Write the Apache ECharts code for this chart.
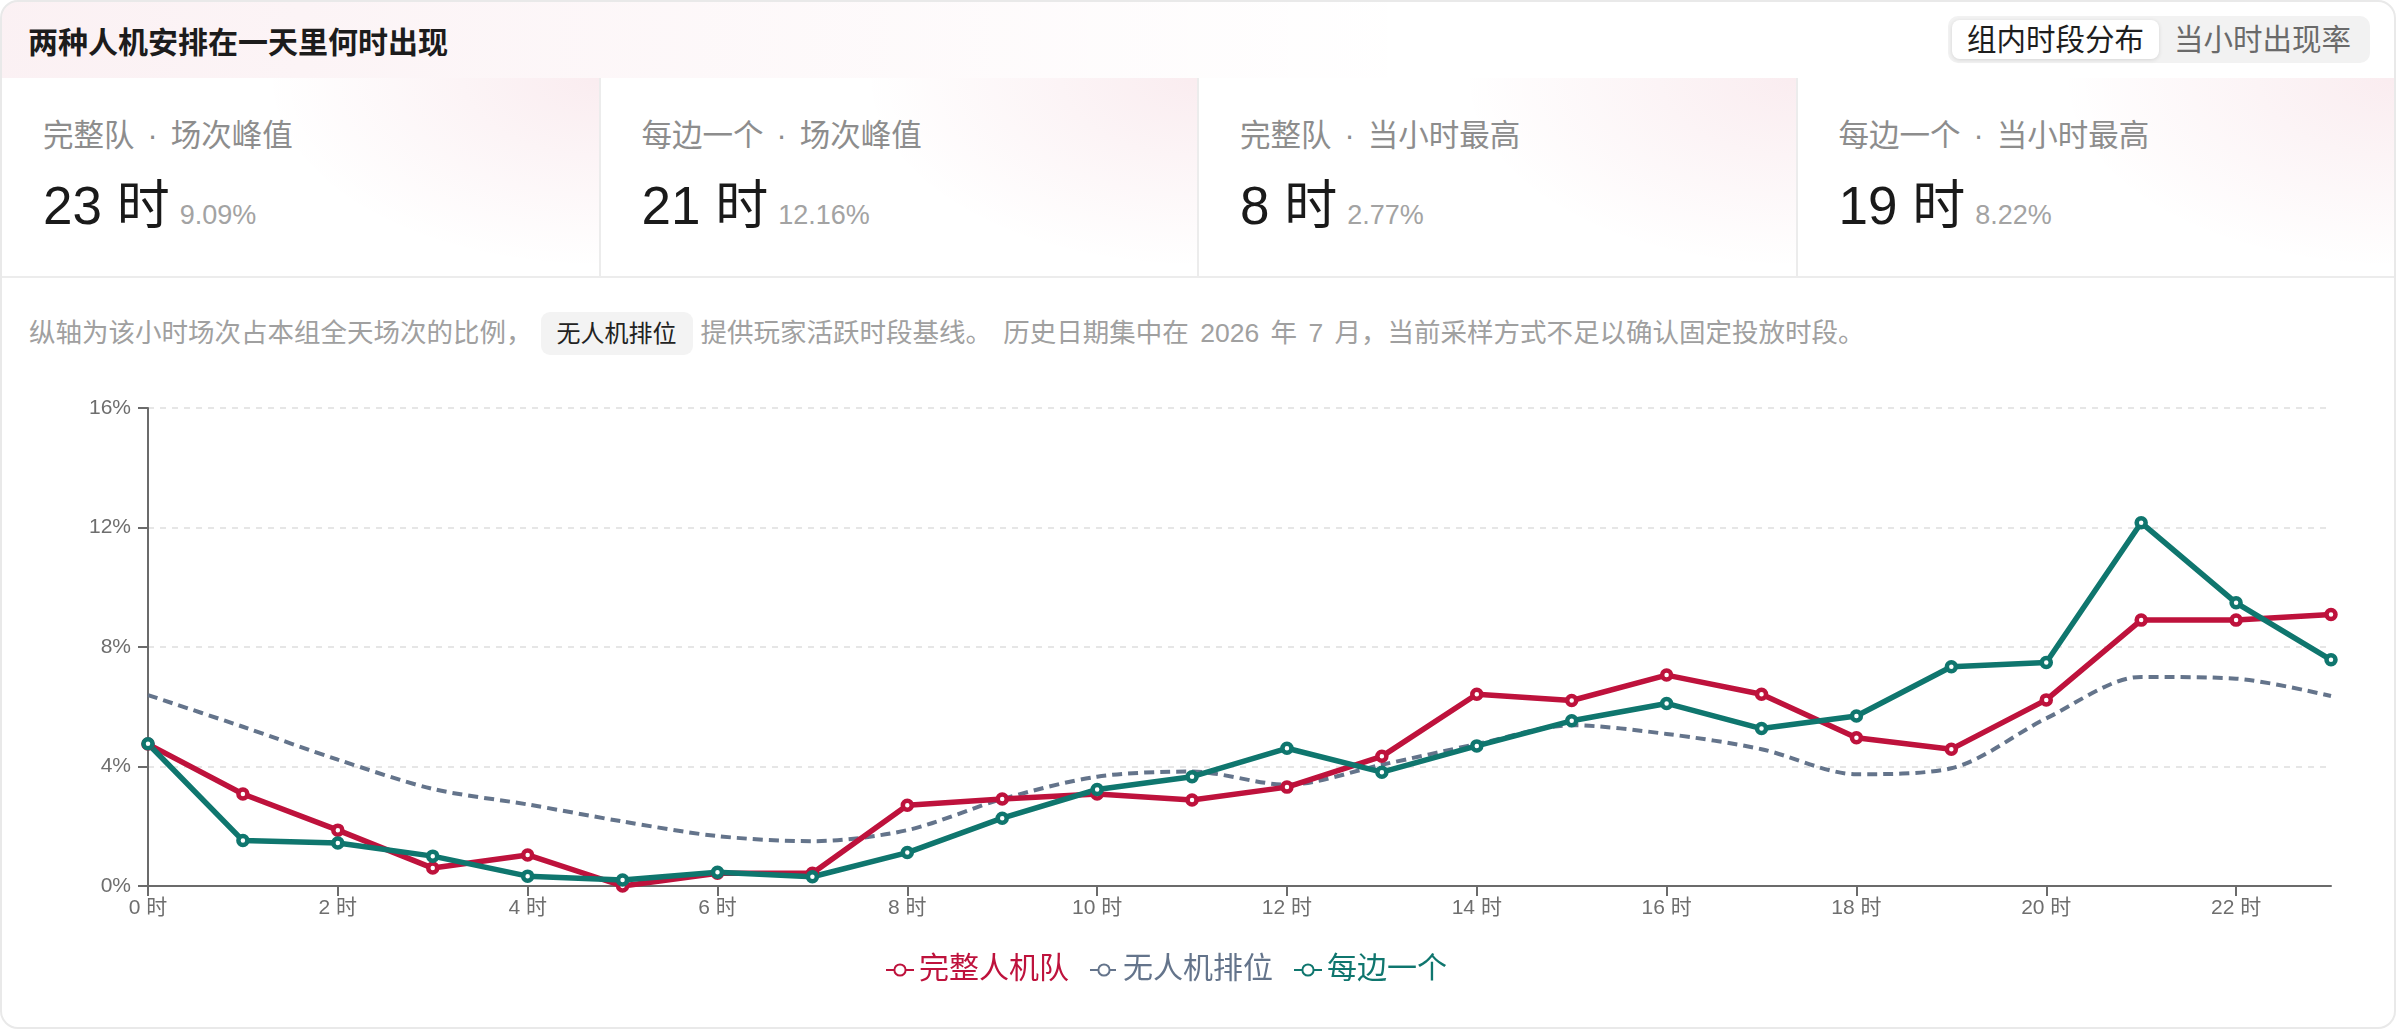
<!DOCTYPE html>
<html>
<head>
<meta charset="utf-8">
<script src="https://cdn.jsdelivr.net/npm/echarts/dist/echarts.min.js"></script>
<style>
  html, body { margin: 0; padding: 0; background: #fff; }
  body { width: 2396px; height: 1030px; position: relative; overflow: hidden;
         font-family: "Liberation Sans", "Noto Sans CJK SC", sans-serif; }
  #card { position: absolute; left: 0; top: 0; width: 2396px; height: 1029px; box-sizing: border-box;
          border: 2px solid #e9e9e9; border-radius: 18px; overflow: hidden; background: #fff; }
  #head { position: absolute; left: 0; top: 0; width: 100%; height: 76px;
          background: linear-gradient(90deg, rgba(190,18,60,0.06) 0%, rgba(190,18,60,0.025) 35%, rgba(190,18,60,0) 60%); }
  #title { position: absolute; left: 26px; top: 23px; font-size: 30px; line-height: 36px; font-weight: 700; color: #1c1c1c; }
  #toggle { position: absolute; right: 24px; top: 14px; height: 47px; box-sizing: border-box; padding: 4px;
            background: #f2f2f2; border-radius: 10px; display: flex; }
  #toggle div { height: 39px; line-height: 39px; padding: 0 15px; font-size: 29.5px; color: #6a6a6a; border-radius: 8px; }
  #toggle div.on { background: #fff; color: #1e1e1e; box-shadow: 0 1px 4px rgba(0,0,0,0.12); }
  #stats { position: absolute; left: 0; top: 76px; width: 100%; height: 200px; display: flex;
           border-bottom: 2px solid #ececec; box-sizing: border-box; }
  .cell { position: relative; flex: 1; height: 100%; border-right: 2px solid #ececec;
          background: radial-gradient(ellipse 70% 120% at 100% 0%, rgba(190,18,60,0.08), rgba(190,18,60,0) 80%); }
  .cell:last-child { border-right: none; }
  .lab { position: absolute; left: 41px; top: 39px; font-size: 30.5px; line-height: 36px; color: #8d8d8d; white-space: pre; }
  .lab i { font-style: normal; margin: 0 13px; }
  .val { position: absolute; left: 41px; top: 98px; font-size: 53px; line-height: 60px; color: #1a1a1a; white-space: nowrap; }
  .val span { font-size: 27px; color: #a3a3a3; margin-left: 10px; }
  #desc { position: absolute; left: 27px; top: 310px; height: 43px; line-height: 43px; font-size: 26.5px; word-spacing: 4px;
          color: #a0a0a0; white-space: nowrap; }
  #desc .chip { display: inline-block; background: #f3f3f3; color: #222; border-radius: 9px; padding: 0 16px; word-spacing: 0;
                font-size: 24px; margin: 0 8px 0 8px; height: 43px; line-height: 43px; vertical-align: top; }
  #chart { position: absolute; left: 0; top: 370px; width: 2396px; height: 650px; }
</style>
</head>
<body>
<div id="card">
  <div id="head">
    <div id="title">两种人机安排在一天里何时出现</div>
    <div id="toggle"><div class="on">组内时段分布</div><div>当小时出现率</div></div>
  </div>
  <div id="stats">
    <div class="cell"><div class="lab">完整队<i>·</i>场次峰值</div><div class="val">23 时<span>9.09%</span></div></div>
    <div class="cell"><div class="lab">每边一个<i>·</i>场次峰值</div><div class="val">21 时<span>12.16%</span></div></div>
    <div class="cell"><div class="lab">完整队<i>·</i>当小时最高</div><div class="val">8 时<span>2.77%</span></div></div>
    <div class="cell"><div class="lab">每边一个<i>·</i>当小时最高</div><div class="val">19 时<span>8.22%</span></div></div>
  </div>
  <div id="desc">纵轴为该小时场次占本组全天场次的比例，<span class="chip">无人机排位</span>提供玩家活跃时段基线。 历史日期集中在 2026 年 7 月，当前采样方式不足以确认固定投放时段。</div>
  <div id="chart"></div>
</div>
<script>
// hour of day (x axis)
var hours = ['0','1','2','3','4','5','6','7','8','9','10','11','12','13','14','15','16','17','18','19','20','21','22','23'];
// share of the group's daily matches in each hour, %
var fullTeam = [4.75, 3.08, 1.87, 0.60, 1.04, 0.00, 0.43, 0.43, 2.70, 2.91, 3.08, 2.88, 3.31, 4.34, 6.42, 6.21, 7.06, 6.42, 4.96, 4.58, 6.23, 8.90, 8.90, 9.09];
var rankedNoBot = [6.39, 5.33, 4.23, 3.25, 2.73, 2.16, 1.67, 1.50, 1.87, 2.91, 3.66, 3.83, 3.39, 4.06, 4.75, 5.38, 5.09, 4.58, 3.74, 3.94, 5.61, 7.00, 6.94, 6.36];
var onePerSide = [4.76, 1.52, 1.44, 1.00, 0.33, 0.20, 0.46, 0.31, 1.12, 2.27, 3.23, 3.66, 4.61, 3.81, 4.69, 5.53, 6.11, 5.27, 5.69, 7.34, 7.48, 12.16, 9.48, 7.57];
var seriesNames = ['完整人机队', '无人机排位', '每边一个'];
var seriesColors = ['#be123c', '#64748b', '#0f766e'];

var myChart = echarts.init(document.getElementById('chart'));
var font = '"Liberation Sans", "Noto Sans CJK SC", sans-serif';

function solidLine(i, values) {
  return {
    name: seriesNames[i],
    type: 'line',
    data: values,
    symbol: 'circle',
    symbolSize: 9,
    lineStyle: { width: 5.5, color: seriesColors[i] },
    itemStyle: { color: '#fff', borderColor: seriesColors[i], borderWidth: 4.5 },
    z: 3
  };
}

var option = {
  animation: false,
  textStyle: { fontFamily: font },
  grid: { left: 146, right: 67, top: 36, bottom: 136, outerBoundsMode: 'none' },
  legend: {
    left: 878,
    top: 578,
    itemWidth: 28,
    itemHeight: 14,
    itemGap: 20,
    textStyle: { fontSize: 30, fontFamily: font },
    data: seriesNames.map(function (n, i) {
      return { name: n, textStyle: { color: seriesColors[i] } };
    })
  },
  xAxis: {
    type: 'category',
    data: hours,
    boundaryGap: false,
    axisLine: { lineStyle: { color: '#6b6b6b', width: 2 } },
    axisTick: { interval: 1, length: 10, lineStyle: { color: '#6b6b6b', width: 2 } },
    axisLabel: { interval: 1, margin: 12, fontSize: 21, color: '#6e6e6e', formatter: '{value} 时' }
  },
  yAxis: {
    type: 'value',
    min: 0,
    max: 16,
    interval: 4,
    axisLine: { show: true, lineStyle: { color: '#6b6b6b', width: 2 } },
    axisTick: { show: true, length: 10, lineStyle: { color: '#6b6b6b', width: 2 } },
    axisLabel: { margin: 17, fontSize: 21, color: '#6e6e6e', formatter: '{value}%' },
    splitLine: { lineStyle: { color: '#e6e6e6', width: 2, type: [6, 6] } }
  },
  series: [
    solidLine(0, fullTeam),
    {
      name: seriesNames[1],
      type: 'line',
      data: rankedNoBot,
      smooth: 0.3,
      showSymbol: false,
      symbol: 'circle',
      symbolSize: 9,
      lineStyle: { width: 4, type: [10, 6], color: seriesColors[1] },
      itemStyle: { color: '#fff', borderColor: seriesColors[1], borderWidth: 4.5 },
      z: 2
    },
    solidLine(2, onePerSide)
  ]
};
myChart.setOption(option);
window.addEventListener('resize', function () { myChart.resize(); });
</script>
</body>
</html>
